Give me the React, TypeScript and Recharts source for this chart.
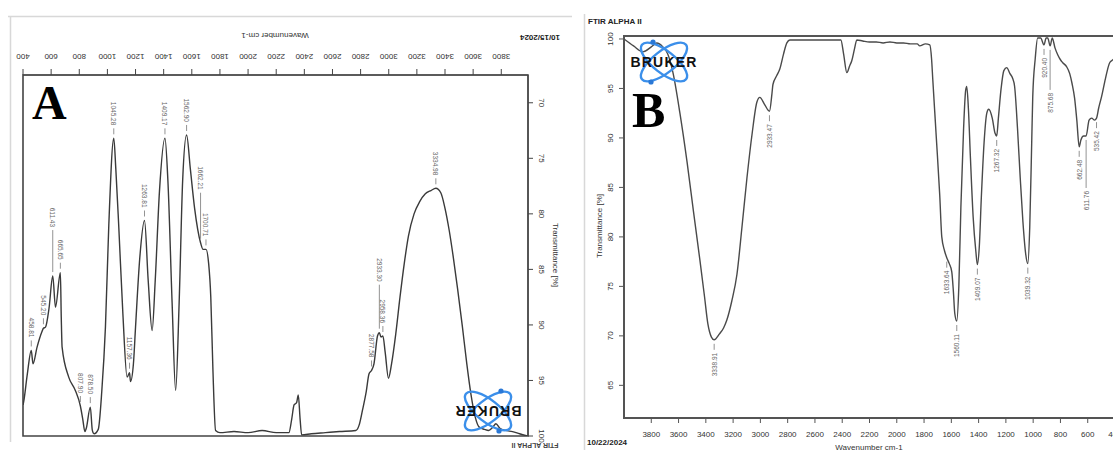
import React from 'react';
import { ComposedChart, Line, Scatter, XAxis, YAxis, ReferenceArea } from 'recharts';

// Panel A (printed upside down): wavenumber / transmittance pairs
const WN_A = [
  400, 405, 430, 458.81, 471, 500, 535, 545.2, 560, 585, 611.43, 631, 665.65, 672, 678, 725, 772, 807.9, 825, 840,
  850, 878.5, 893, 905, 935, 960, 986, 1010, 1045.28, 1060, 1081, 1110, 1140, 1157.36, 1164, 1185, 1200, 1230, 1263.81, 1290,
  1318, 1340, 1370, 1409.17, 1430, 1460, 1485, 1510, 1535, 1562.9, 1590, 1620, 1662.21, 1680, 1700.71, 1720, 1735, 1750, 1769, 1800,
  1900, 2000, 2100, 2200, 2290, 2310, 2327, 2345, 2357, 2370, 2381, 2450, 2550, 2650, 2766, 2790, 2813, 2840, 2860, 2877.58,
  2895, 2920, 2933.3, 2945, 2958.36, 2975, 2998, 3020, 3050, 3080, 3110, 3140, 3180, 3220, 3260, 3300, 3334.98, 3370, 3400, 3430,
  3460, 3490, 3524, 3555, 3584, 3615, 3643, 3680, 3710, 3740, 3762, 3790, 3830, 3880, 3930, 3985,
];
const T_A = [
  97.2, 96.9, 94.5, 92.3, 93.5, 92.0, 90.6, 90.3, 90.2, 88.5, 85.6, 88.4, 85.3, 89.3, 92.0, 94.7, 95.9, 97.3, 98.5, 99.6,
  99.3, 97.4, 99.5, 99.8, 99.4, 96.0, 90.2, 81.0, 73.2, 76.0, 81.2, 89.0, 94.7, 94.3, 95.1, 93.5, 90.2, 84.0, 80.6, 86.0,
  90.5, 86.0, 78.0, 73.2, 77.0, 88.0, 95.9, 88.0, 77.0, 72.9, 76.0, 79.5, 82.6, 83.2, 83.2, 84.5, 87.5, 94.0, 99.5, 99.7,
  99.6, 99.7, 99.5, 99.7, 99.7, 98.5, 97.2, 97.0, 96.3, 98.5, 99.9, 99.8, 99.7, 99.6, 99.5, 99.0, 97.7, 96.0, 94.4, 94.1,
  93.5, 91.0, 90.7, 91.1, 91.0, 92.5, 94.8, 93.5, 90.8, 87.5, 84.5, 82.0, 80.0, 78.9, 78.2, 77.9, 77.7, 78.1, 79.5, 81.5,
  84.0, 86.8, 90.2, 93.5, 96.2, 98.3, 99.2, 99.4, 99.5, 99.2, 98.9, 99.3, 99.5, 99.6, 99.8, 100,
];
const PEAKS_A = [458.81, 545.2, 611.43, 665.65, 807.9, 878.5, 1045.28, 1157.36, 1263.81, 1409.17, 1562.9, 1662.21, 1700.71, 2877.58, 2933.3, 2958.36, 3334.98];
const TICKS_A_X = [400, 600, 800, 1000, 1200, 1400, 1600, 1800, 2000, 2200, 2400, 2600, 2800, 3000, 3200, 3400, 3600, 3800];
const TICKS_A_Y = [70, 75, 80, 85, 90, 95, 100];

// Panel B
const WN_B = [
  4000, 3930, 3861, 3800, 3760, 3715, 3680, 3641, 3590, 3538, 3490, 3443, 3410, 3385, 3360, 3338.91, 3300, 3270, 3246, 3210,
  3172, 3135, 3099, 3060, 3026, 3004, 2970, 2933.47, 2915, 2908, 2880, 2857, 2830, 2806, 2784, 2700, 2600, 2500, 2410, 2390,
  2366, 2345, 2330, 2310, 2293, 2250, 2200, 2150, 2100, 2050, 2000, 1950, 1900, 1850, 1832, 1790, 1758, 1745, 1736, 1710,
  1685, 1670, 1650, 1633.64, 1615, 1597, 1585, 1575, 1560.11, 1545, 1530, 1510, 1495, 1487, 1475, 1460, 1440, 1420, 1409.07, 1395,
  1380, 1360, 1340, 1326, 1300, 1280, 1267.32, 1255, 1235, 1215, 1194, 1170, 1150, 1136, 1115, 1095, 1075, 1055, 1039.32, 1025,
  1010, 1003, 985, 967, 945, 920.4, 905, 893, 875.68, 860, 840, 820, 800, 783, 755, 732, 715, 696, 680, 662.48,
  650, 630, 611.76, 590, 571, 550, 535.42, 520, 498, 470, 439, 415, 400,
];
const T_B = [
  100, 99.3, 98.7, 99.2, 99.6, 99.2, 98.5, 96.6, 92.5, 87.6, 82.5, 77.6, 74.0, 71.2, 69.9, 69.6, 70.2, 70.8, 71.6, 73.5,
  76.2, 81.0, 85.9, 90.5, 93.6, 94.1, 93.4, 92.7, 94.5, 95.4, 96.3, 97.0, 98.5, 99.6, 99.9, 99.9, 99.9, 99.9, 99.9, 98.5,
  96.6, 97.3, 97.8, 99.0, 99.9, 99.8, 99.7, 99.7, 99.6, 99.7, 99.6, 99.6, 99.5, 99.5, 99.3, 99.5, 99.4, 98.0, 95.9, 90.0,
  84.2, 80.0, 78.6, 77.9, 77.3, 76.5, 74.5, 72.3, 71.5, 75.0, 83.0, 91.0, 94.8, 95.2, 93.0, 88.0, 82.0, 78.5, 77.2, 79.0,
  84.0, 89.5, 92.5, 92.9, 92.0, 90.5, 90.2, 92.0, 95.0, 96.8, 97.1, 96.5, 96.0, 95.2, 91.0, 86.0, 81.5, 78.3, 77.3, 81.0,
  90.0, 94.2, 98.0, 100.1, 100.1, 99.4, 100.1, 100.1, 99.3, 100.1, 99.1, 98.4, 97.9, 97.6, 97.2, 96.5, 95.5, 94.0, 91.8, 89.1,
  89.8, 90.2, 90.2, 91.8, 92.0, 91.8, 92.0, 93.0, 94.2, 96.0, 97.6, 97.9, 98.1,
];
const PEAKS_B = [3338.91, 2933.47, 1633.64, 1560.11, 1409.07, 1267.32, 1039.32, 920.4, 875.68, 662.48, 611.76, 535.42];
const TICKS_B_X = [3800, 3600, 3400, 3200, 3000, 2800, 2600, 2400, 2200, 2000, 1800, 1600, 1400, 1200, 1000, 800, 600, 400];
const TICKS_B_Y = [65, 70, 75, 80, 85, 90, 95, 100];

const specA = WN_A.map((wn, i) => ({ wn, t: T_A[i] }));
const specB = WN_B.map((wn, i) => ({ wn, t: T_B[i] }));
const peakRows = (peaks: number[], wns: number[], ts: number[]) =>
  peaks.map(p => ({ wn: p, t: ts[wns.indexOf(p)], label: p.toFixed(2) }));
const peaksA = peakRows(PEAKS_A, WN_A, T_A);
const peaksB = peakRows(PEAKS_B, WN_B, T_B);

// longer leader lines where labels would collide
const leadA: Record<string, number> = { '611.43': 36, '1662.21': 40, '2933.30': 38 };
const leadB: Record<string, number> = { '875.68': 34, '611.76': 42 };

const FONT = '"Liberation Sans", Arial, sans-serif';
const LABEL_GREY = '#666';

// dir -1: label above the point (panel A), +1: label below (panel B)
const peakShape = (dir: number, leads: Record<string, number>) => (props: any) => {
  const { cx, cy, payload } = props;
  if (cx == null || cy == null) return <g />;
  const lead = leads[payload.label] || 0;
  const a = cy + dir * 4;
  const b = cy + dir * (10 + lead);
  const ty = cy + dir * (13 + lead);
  return (
    <g>
      <line x1={cx} y1={a} x2={cx} y2={b} stroke="#777" strokeWidth={0.8} />
      <text x={cx} y={ty} fontSize={6.5} fill={LABEL_GREY} fontFamily={FONT}
        textAnchor="end" dominantBaseline="central"
        transform={`rotate(${dir < 0 ? 90 : -90} ${cx} ${ty})`}>{payload.label}</text>
    </g>
  );
};

// tick renderers (coordinates are relative to each chart's own svg)
const TickTopA = ({ x, payload }: any) => (
  <text x={x} y={56} fontSize={8} fill="#333" fontFamily={FONT} textAnchor="middle" dominantBaseline="central"
    transform={`rotate(180 ${x} 56)`}>{payload.value}</text>
);
const TickRightA = ({ y, payload }: any) => (
  <text x={541} y={y} fontSize={8} fill="#333" fontFamily={FONT} textAnchor="middle" dominantBaseline="central"
    transform={`rotate(90 541 ${y})`}>{payload.value}</text>
);
const TickBottomB = ({ x, payload }: any) => (
  <text x={x} y={434} fontSize={8} fill="#333" fontFamily={FONT} textAnchor="middle" dominantBaseline="central">{payload.value}</text>
);
const TickLeftB = ({ y, payload }: any) => (
  <text x={31} y={y} fontSize={8} fill="#333" fontFamily={FONT} textAnchor="middle" dominantBaseline="central"
    transform={`rotate(-90 31 ${y})`}>{payload.value}</text>
);

const Bruker = ({ cx, cy, flip }: { cx: number; cy: number; flip?: boolean }) => (
  <g transform={`translate(${cx} ${cy}) rotate(${flip ? 180 : 0})`}>
    <ellipse rx={28} ry={11} transform="rotate(38)" fill="none" stroke="#3b8fea" strokeWidth={2.4} />
    <ellipse rx={28} ry={11} transform="rotate(-38)" fill="none" stroke="#3b8fea" strokeWidth={2.4} />
    <circle cx={-11} cy={-20} r={2.6} fill="#2a78d6" />
    <circle cx={-13} cy={20} r={2.6} fill="#2a78d6" />
    <text x={0} y={5} textAnchor="middle" fontFamily={FONT} fontWeight={900} fontSize={14} letterSpacing={1.2}
      fill="#111">BRUKER</text>
  </g>
);

export default function App() {
  return (
    <div style={{ position: 'absolute', left: 0, top: 0, width: 1113, height: 450, overflow: 'hidden', background: '#fff', fontFamily: FONT }}>
      {/* Panel A */}
      <div style={{ position: 'absolute', left: 0, top: 0 }}>
        <ComposedChart width={575} height={450} margin={{ top: 45, right: 7, left: 23, bottom: 14 }}>
          <XAxis xAxisId={0} type="number" dataKey="wn" orientation="top" domain={[400, 3990]} ticks={TICKS_A_X}
            allowDataOverflow height={30} tickSize={6} stroke="#444" tick={<TickTopA />} interval={0} />
          <YAxis yAxisId={0} type="number" orientation="right" domain={[67.5, 100]} reversed ticks={TICKS_A_Y}
            allowDataOverflow width={40} tickSize={5} stroke="#444" tick={<TickRightA />} interval={0} />
          <ReferenceArea x1={400} x2={3990} y1={67.5} y2={100} fill="none" stroke="#444" strokeWidth={1.6} ifOverflow="visible" />
          <Line data={specA} dataKey="t" type="monotone" stroke="#3a3a3a" strokeWidth={1.4} dot={false} isAnimationActive={false} />
          <Scatter data={peaksA} dataKey="t" shape={peakShape(-1, leadA)} isAnimationActive={false} />
        </ComposedChart>
      </div>
      {/* Panel B */}
      <div style={{ position: 'absolute', left: 580, top: 0 }}>
        <ComposedChart width={545} height={450} margin={{ top: 36, right: 10, left: 14, bottom: 2 }}>
          <XAxis xAxisId={0} type="number" dataKey="wn" domain={[400, 4000]} reversed ticks={TICKS_B_X}
            allowDataOverflow height={30} tickSize={5} stroke="#555" tick={<TickBottomB />} interval={0} />
          <YAxis yAxisId={0} type="number" domain={[61.7, 100.3]} ticks={TICKS_B_Y}
            allowDataOverflow width={30} tickSize={5} stroke="#555" tick={<TickLeftB />} interval={0} />
          <ReferenceArea x1={400} x2={4000} y1={61.7} y2={100.3} fill="none" stroke="#555" strokeWidth={2} ifOverflow="visible" />
          <Line data={specB} dataKey="t" type="monotone" stroke="#4a4a4a" strokeWidth={1.4} dot={false} isAnimationActive={false} />
          <Scatter data={peaksB} dataKey="t" shape={peakShape(1, leadB)} isAnimationActive={false} />
        </ComposedChart>
      </div>
      {/* titles, frames and logos */}
      <svg width={1113} height={450} style={{ position: 'absolute', left: 0, top: 0, pointerEvents: 'none' }}>
        <line x1={8} y1={16.5} x2={572} y2={16.5} stroke="#d8d8d8" strokeWidth={1.5} />
        <line x1={10.5} y1={16} x2={10.5} y2={442} stroke="#d8d8d8" strokeWidth={1.5} />
        <line x1={584.5} y1={14} x2={584.5} y2={450} stroke="#d8d8d8" strokeWidth={1.5} />

        <text x={275} y={35} fontSize={8} fill="#333" textAnchor="middle" dominantBaseline="central" transform="rotate(180 275 35)">Wavenumber cm-1</text>
        <text x={555} y={255} fontSize={8} fill="#333" textAnchor="middle" dominantBaseline="central" transform="rotate(90 555 255)">Transmittance [%]</text>
        <text x={540} y={37} fontSize={8} fontWeight="bold" fill="#222" textAnchor="middle" dominantBaseline="central" transform="rotate(180 540 37)">10/15/2024</text>
        <text x={535} y={445} fontSize={7} fontWeight="bold" fill="#444" textAnchor="middle" dominantBaseline="central" transform="rotate(180 535 445)">FTIR ALPHA II</text>
        <text x={32} y={119} fontSize={48} fontWeight="bold" fontFamily='"Liberation Serif", serif' fill="#000">A</text>
        <Bruker cx={488} cy={411} flip />

        <text x={588} y={21} fontSize={8} fontWeight="bold" fill="#222" dominantBaseline="central">FTIR ALPHA II</text>
        <text x={587} y={442} fontSize={8} fontWeight="bold" fill="#222" dominantBaseline="central">10/22/2024</text>
        <text x={869} y={447} fontSize={8} fill="#333" textAnchor="middle" dominantBaseline="central">Wavenumber cm-1</text>
        <text x={599} y={226} fontSize={8} fill="#333" textAnchor="middle" dominantBaseline="central" transform="rotate(-90 599 226)">Transmittance [%]</text>
        <text x={632} y={127} fontSize={50} fontWeight="bold" fontFamily='"Liberation Serif", serif' fill="#000">B</text>
        <Bruker cx={664} cy={62} />
      </svg>
    </div>
  );
}
